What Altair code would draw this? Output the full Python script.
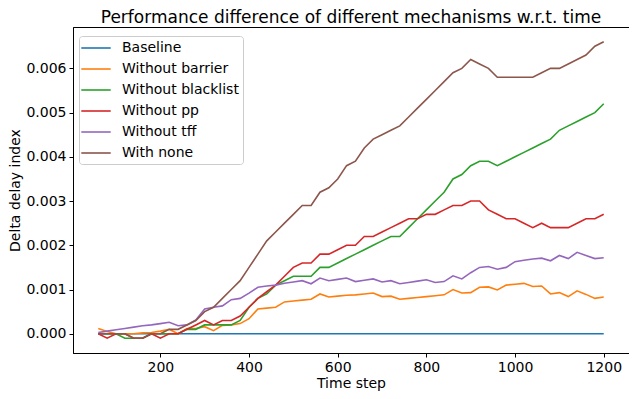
import altair as alt
import pandas as pd

time_steps = list(range(60, 1201, 20))

series_names = ["Baseline", "Without barrier", "Without blacklist", "Without pp", "Without tff", "With none"]
series_colors = ["#1f77b4", "#ff7f0e", "#2ca02c", "#d62728", "#9467bd", "#8c564b"]

baseline = [0.0] * len(time_steps)

without_barrier = [
    0.00012, 0.00005, 0.0, 0.0, 0.0, 0.00002, 0.00003, 0.00006, 0.0001, 0.0,
    0.00012, 0.00012, 0.00016, 0.00007, 0.00019, 0.0002, 0.00023, 0.00034, 0.00056, 0.00058,
    0.0006, 0.00072, 0.00074, 0.00076, 0.00078, 0.0009, 0.00083, 0.00085, 0.00087, 0.00088,
    0.0009, 0.00092, 0.00084, 0.00085, 0.00078, 0.0008, 0.00082, 0.00084, 0.00086, 0.00088,
    0.001, 0.00092, 0.00093, 0.00105, 0.00106, 0.00099, 0.0011, 0.00112, 0.00114, 0.00107,
    0.00108, 0.0009, 0.00093, 0.00084, 0.00097, 0.00089, 0.0008, 0.00083,
]

without_blacklist = [
    0.0, 0.0, 0.0, -0.0001, -0.0001, -0.0001, 0.0, 0.0, 0.0, 0.0,
    0.0001, 0.0001, 0.0002, 0.0002, 0.0002, 0.0002, 0.0003, 0.0006, 0.0008, 0.0009,
    0.0011, 0.0012, 0.0013, 0.0013, 0.0013, 0.0015, 0.0015, 0.0016, 0.0017, 0.0018,
    0.0019, 0.002, 0.0021, 0.0022, 0.0022, 0.0024, 0.0026, 0.0028, 0.003, 0.0032,
    0.0035, 0.0036, 0.0038, 0.0039, 0.0039, 0.0038, 0.0039, 0.004, 0.0041, 0.0042,
    0.0043, 0.0044, 0.0046, 0.0047, 0.0048, 0.0049, 0.005, 0.0052,
]

without_pp = [
    0.0, -0.0001, 0.0, 0.0, -0.0001, -0.0001, 0.0, -0.0001, 0.0, 0.0,
    0.0001, 0.0002, 0.0003, 0.0002, 0.0003, 0.0003, 0.0004, 0.0006, 0.0008, 0.00095,
    0.0011, 0.0013, 0.0015, 0.0016, 0.0016, 0.0018, 0.0018, 0.0019, 0.002, 0.002,
    0.0022, 0.0022, 0.0023, 0.0024, 0.0025, 0.0026, 0.0026, 0.0027, 0.0027, 0.0028,
    0.0029, 0.0029, 0.003, 0.003, 0.0028, 0.0027, 0.0026, 0.0026, 0.0025, 0.0024,
    0.0025, 0.0024, 0.0024, 0.0024, 0.0025, 0.0026, 0.0026, 0.0027,
]

without_tff = [
    0.00003, 0.00006, 0.00009, 0.00012, 0.00015, 0.00018, 0.0002, 0.00023, 0.00026, 0.00018,
    0.0002, 0.00031, 0.00056, 0.0006, 0.00063, 0.00077, 0.0008, 0.00092, 0.00105, 0.00108,
    0.0011, 0.00114, 0.00117, 0.0012, 0.00113, 0.00126, 0.0012, 0.00123, 0.00126, 0.00118,
    0.00121, 0.00124, 0.00117, 0.0012, 0.00113, 0.00116, 0.00119, 0.00122, 0.00116, 0.00118,
    0.00131, 0.00124, 0.00138, 0.0015, 0.00152, 0.00146, 0.0015, 0.00163, 0.00166, 0.00169,
    0.00171, 0.00165, 0.00177, 0.0017, 0.00184, 0.00177, 0.0017, 0.00172,
]

with_none = [
    0.0, 0.0, 0.0, 0.0, -0.0001, -0.0001, 0.0, 0.0, 0.0001, 0.0001,
    0.0002, 0.0003, 0.0005, 0.0006, 0.0008, 0.001, 0.0012, 0.0015, 0.0018, 0.0021,
    0.0023, 0.0025, 0.0027, 0.0029, 0.0029, 0.0032, 0.0033, 0.0035, 0.0038, 0.0039,
    0.0042, 0.0044, 0.0045, 0.0046, 0.0047, 0.0049, 0.0051, 0.0053, 0.0055, 0.0057,
    0.0059, 0.006, 0.0062, 0.0061, 0.006, 0.0058, 0.0058, 0.0058, 0.0058, 0.0058,
    0.0059, 0.006, 0.006, 0.0061, 0.0062, 0.0063, 0.0065, 0.0066,
]

x_ticks = [200, 400, 600, 800, 1000, 1200]
y_ticks = [0.0, 0.001, 0.002, 0.003, 0.004, 0.005, 0.006]

all_values = [baseline, without_barrier, without_blacklist, without_pp, without_tff, with_none]
rows = []
for idx, (name, vals) in enumerate(zip(series_names, all_values)):
    for t, v in zip(time_steps, vals):
        rows.append({"Time step": t, "value": v, "series": name, "series_idx": idx})
df = pd.DataFrame(rows)

FONT = "DejaVu Sans"

chart = alt.Chart(df).mark_line(strokeWidth=1.6, clip=True).encode(
    x=alt.X("Time step:Q",
            scale=alt.Scale(domain=[3, 1257], nice=False, zero=False),
            axis=alt.Axis(values=x_ticks, title="Time step", format="d", titlePadding=2)),
    y=alt.Y("value:Q",
            scale=alt.Scale(domain=[-0.000435, 0.006935], nice=False, zero=False),
            axis=alt.Axis(values=y_ticks, title="Delta delay index", format=".3f", titlePadding=3)),
    color=alt.Color("series:N",
                    scale=alt.Scale(domain=series_names, range=series_colors),
                    sort=series_names,
                    legend=alt.Legend(title=None, orient="none", legendX=6, legendY=9,
                                      symbolType="M-2.1,0H2.1", symbolSize=196, symbolStrokeWidth=1.6,
                                      symbolOffset=5,
                                      labelFontSize=14, labelFont=FONT, labelColor="black",
                                      rowPadding=6, padding=4, strokeColor="#cccccc",
                                      fillColor="white", cornerRadius=3, labelOffset=18)),
    order=alt.Order("series_idx:Q"),
).properties(
    width=556,
    height=326,
    title=alt.Title("Performance difference of different mechanisms w.r.t. time",
                    fontSize=17, font=FONT, fontWeight="normal", color="black", offset=0),
    autosize=alt.AutoSizeParams(type="none"),
    padding={"left": 65, "top": 19, "right": 0, "bottom": 38},
).configure_view(
    stroke="black", strokeWidth=1
).configure_axis(
    labelFontSize=14, titleFontSize=14, labelFont=FONT, titleFont=FONT,
    labelColor="black", titleColor="black", titleFontWeight="normal",
    domainColor="black", tickColor="black", tickSize=4, grid=False,
    labelPadding=3,
)

chart.save("out.html", embed_options={"renderer": "svg", "actions": False})
